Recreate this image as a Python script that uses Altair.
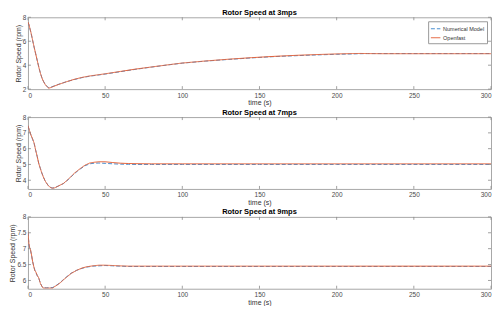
import altair as alt
import pandas as pd

SERIES = ["Numerical Model", "Openfast"]
COLORS = ["#4A8FD0", "#E4623A"]
TITLES = ["Rotor Speed at 3mps", "Rotor Speed at 7mps", "Rotor Speed at 9mps"]
X_TICKS = [0, 50, 100, 150, 200, 250, 300]

# ---- 3 m/s ----
t3 = [0, 0.5, 1, 2, 3, 4, 5, 6, 7, 8, 9, 10, 11, 12, 13, 13.5, 14, 15, 17, 20, 25, 30, 35, 40,
      50, 60, 70, 80, 90, 100, 115, 130, 145, 160, 175, 190, 200, 210, 215, 220, 230, 250, 275, 300]
of3 = [7.6, 7.45, 7.2, 6.7, 6.1, 5.5, 4.95, 4.4, 3.85, 3.35, 2.95, 2.65, 2.42, 2.25, 2.12, 2.08, 2.1,
       2.14, 2.25, 2.4, 2.62, 2.82, 2.98, 3.1, 3.28, 3.48, 3.68, 3.85, 4.02, 4.18, 4.35, 4.5, 4.63,
       4.74, 4.83, 4.9, 4.94, 4.97, 4.98, 4.97, 4.96, 4.96, 4.96, 4.96]
nm3 = [7.58, 7.43, 7.18, 6.68, 6.08, 5.5, 4.95, 4.4, 3.86, 3.37, 2.97, 2.67, 2.44, 2.28, 2.16, 2.13, 2.14,
       2.17, 2.27, 2.41, 2.62, 2.8, 2.96, 3.08, 3.26, 3.46, 3.66, 3.84, 4.01, 4.17, 4.34, 4.48, 4.61,
       4.72, 4.8, 4.87, 4.91, 4.94, 4.96, 4.97, 4.97, 4.97, 4.97, 4.97]
y3_domain = [2, 8]
y3_ticks = [2, 4, 6, 8]

# ---- 7 m/s ----
t7 = [0, 1, 2, 3, 4, 5, 6, 7, 8, 9, 10, 11, 12, 13, 14, 15, 16, 17, 18, 20, 22, 23, 26, 28, 30, 32,
      34, 37, 40, 43, 46, 50, 55, 60, 65, 70, 80, 100, 150, 200, 250, 300]
of7 = [7.46, 7.15, 6.85, 6.62, 6.35, 5.9, 5.5, 5.06, 4.75, 4.45, 4.2, 3.98, 3.82, 3.68, 3.58, 3.52,
       3.5, 3.51, 3.55, 3.65, 3.75, 3.8, 4.05, 4.25, 4.44, 4.6, 4.75, 4.96, 5.09, 5.14, 5.17, 5.17,
       5.12, 5.08, 5.06, 5.05, 5.04, 5.04, 5.04, 5.04, 5.04, 5.04]
nm7 = [7.44, 7.13, 6.84, 6.6, 6.33, 5.9, 5.5, 5.07, 4.76, 4.46, 4.21, 3.99, 3.83, 3.69, 3.59, 3.53,
       3.51, 3.52, 3.56, 3.65, 3.74, 3.79, 4.03, 4.22, 4.41, 4.57, 4.72, 4.92, 5.04, 5.08, 5.09, 5.07,
       5.04, 5.02, 5.01, 5.0, 5.0, 5.0, 5.0, 5.0, 5.0, 5.0]
y7_domain = [3.45, 8]
y7_ticks = [4, 5, 6, 7, 8]

# ---- 9 m/s ----
t9 = [0, 0.3, 0.6, 1, 1.7, 2.5, 3, 3.8, 4.5, 5, 6, 7, 8.1, 9, 9.8, 12, 14, 16.2, 17, 18.8, 21, 23,
      25.2, 28, 31.6, 35, 38, 42, 46, 50, 55, 59.4, 65, 75, 100, 150, 200, 250, 300]
of9 = [7.54, 7.35, 7.17, 7.05, 6.96, 6.75, 6.6, 6.43, 6.3, 6.28, 6.16, 6.08, 5.9, 5.82, 5.76, 5.76,
       5.76, 5.76, 5.8, 5.85, 5.93, 6.02, 6.11, 6.22, 6.32, 6.39, 6.43, 6.46, 6.48, 6.48, 6.47, 6.46,
       6.45, 6.45, 6.45, 6.45, 6.45, 6.45, 6.45]
nm9 = [7.52, 7.33, 7.15, 7.03, 6.94, 6.74, 6.6, 6.44, 6.32, 6.27, 6.15, 6.07, 5.91, 5.82, 5.77, 5.77,
       5.77, 5.78, 5.81, 5.86, 5.94, 6.03, 6.12, 6.23, 6.32, 6.38, 6.42, 6.45, 6.46, 6.47, 6.46, 6.45,
       6.44, 6.44, 6.44, 6.44, 6.44, 6.44, 6.44]
y9_domain = [5.74, 8]
y9_ticks = [6, 6.5, 7, 7.5, 8]

FONT = "Liberation Sans"
W, H = 464, 72
TICK = 3
TICK_COLOR = "#8a8a8a"


def make_df(t, nm, of):
    rows = [{"t": a, "v": b, "series": SERIES[0]} for a, b in zip(t, nm)]
    rows += [{"t": a, "v": b, "series": SERIES[1]} for a, b in zip(t, of)]
    return pd.DataFrame(rows)


def panel(df, title, ydom, yticks, show_legend):
    xs = alt.Scale(domain=[0, 300], nice=False, zero=False)
    ys = alt.Scale(domain=ydom, nice=False, zero=False)
    x_enc = alt.X("t:Q", scale=xs, title="time (s)",
                  axis=alt.Axis(values=X_TICKS, ticks=False, labelPadding=3,
                                titlePadding=0, domain=False, grid=False))
    y_enc = alt.Y("v:Q", scale=ys, title="Rotor Speed (rpm)",
                  axis=alt.Axis(values=yticks, ticks=False, labelPadding=2, format="~g",
                                titlePadding=1, domain=False, grid=False))
    if show_legend:
        leg = alt.Legend(title=None, orient="top-right", offset=4, padding=2,
                         strokeColor="#9a9a9a", fillColor="white", symbolType="stroke",
                         symbolSize=90, symbolStrokeWidth=1, labelFontSize=5.5,
                         labelFont=FONT, labelColor="#333333", rowPadding=0, labelOffset=2)
    else:
        leg = None
    lines = alt.Chart(df).mark_line(strokeWidth=1, clip=True).encode(
        x=x_enc,
        y=y_enc,
        color=alt.Color("series:N", scale=alt.Scale(domain=SERIES, range=COLORS), legend=leg),
        strokeDash=alt.StrokeDash("series:N", scale=alt.Scale(domain=SERIES, range=[[4, 2], [1, 0]]),
                                  legend=leg),
    )
    xt = pd.DataFrame({"t": X_TICKS})
    yt = pd.DataFrame({"v": yticks})
    rule = dict(color=TICK_COLOR, strokeWidth=0.8)
    top = alt.Chart(xt).mark_rule(**rule).encode(x=x_enc, y=alt.value(0), y2=alt.value(TICK))
    bottom = alt.Chart(xt).mark_rule(**rule).encode(x=x_enc, y=alt.value(H - TICK), y2=alt.value(H))
    left = alt.Chart(yt).mark_rule(**rule).encode(y=y_enc, x=alt.value(0), x2=alt.value(TICK))
    right = alt.Chart(yt).mark_rule(**rule).encode(y=y_enc, x=alt.value(W - TICK), x2=alt.value(W))
    return alt.layer(lines, top, bottom, left, right).properties(
        width=W, height=H,
        title=alt.TitleParams(title, fontSize=7.5, fontWeight="bold", font=FONT, color="black",
                              anchor="middle", offset=-2),
    )


p1 = panel(make_df(t3, nm3, of3), TITLES[0], y3_domain, y3_ticks, True)
p2 = panel(make_df(t7, nm7, of7), TITLES[1], y7_domain, y7_ticks, False)
p3 = panel(make_df(t9, nm9, of9), TITLES[2], y9_domain, y9_ticks, False)

chart = alt.vconcat(p1, p2, p3, spacing=2).resolve_scale(
    y="independent", color="independent", strokeDash="independent"
).properties(
    padding=0
).configure_view(
    stroke="#a8a8a8", strokeWidth=1
).configure_axis(
    labelFont=FONT, titleFont=FONT, labelFontSize=6.5, titleFontSize=7,
    labelColor="#4a4a4a", titleColor="#333333",
    titleFontWeight="normal"
)

chart.save("out.html", embed_options={"renderer": "svg", "actions": False})
